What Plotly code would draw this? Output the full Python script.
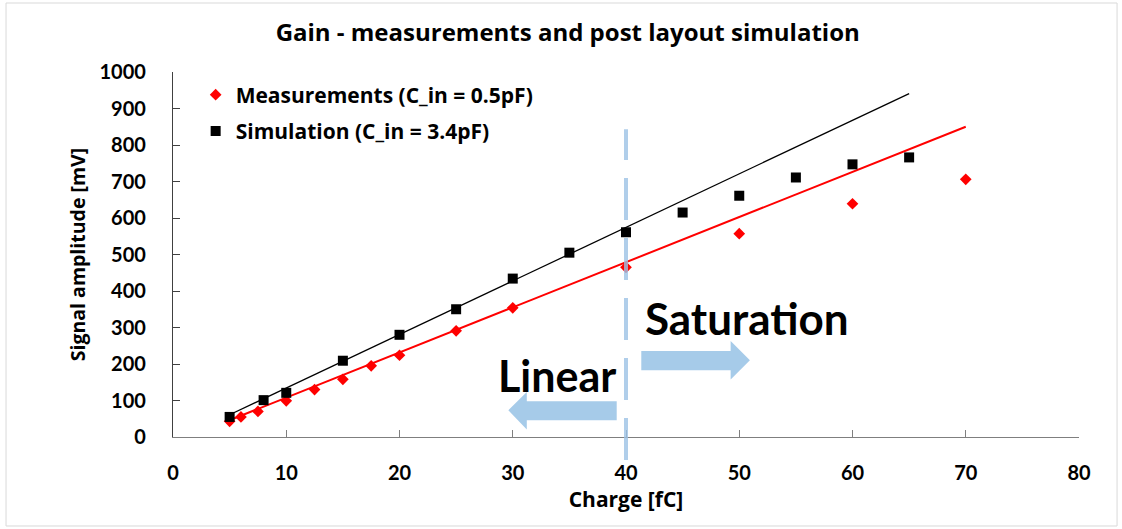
import plotly.graph_objects as go

# ---- data ----
meas_x = [5, 6, 7.5, 10, 12.5, 15, 17.5, 20, 25, 30, 40, 50, 60, 70]
meas_y = [43, 55, 70, 99, 130, 158, 195, 224, 291, 354, 465, 557, 639, 706]
sim_x = [5, 8, 10, 15, 20, 25, 30, 35, 40, 45, 50, 55, 60, 65]
sim_y = [55, 101, 121, 209, 280, 350, 434, 505, 561, 615, 661, 711, 747, 766]
meas_fit_x = [5, 70]
meas_fit_y = [46, 850]
sim_fit_x = [5, 65]
sim_fit_y = [61, 941]
boundary_x = 40
boundary_y = [-63, 843]
x_ticks = [0, 10, 20, 30, 40, 50, 60, 70, 80]
y_ticks = [0, 100, 200, 300, 400, 500, 600, 700, 800, 900, 1000]

XR = [0, 80]
YR = [0, 1000]
FONT = "Lato"
TFONT = "Open Sans"
BLUE = "#A6CBE9"

fig = go.Figure()
fig.add_trace(go.Scatter(x=meas_fit_x, y=meas_fit_y, mode="lines",
                         line=dict(color="#FF0000", width=2), showlegend=False, hoverinfo="skip"))
fig.add_trace(go.Scatter(x=sim_fit_x, y=sim_fit_y, mode="lines",
                         line=dict(color="#000000", width=1.3), showlegend=False, hoverinfo="skip"))
fig.add_trace(go.Scatter(x=meas_x, y=meas_y, mode="markers", name="<b>Measurements (C_in = 0.5pF)</b>",
                         legendgroup="a",
                         marker=dict(symbol="diamond", size=9, color="#FF0000", line=dict(width=0))))
fig.add_trace(go.Scatter(x=sim_x, y=sim_y, mode="markers", name="<b>Simulation (C_in = 3.4pF)</b>",
                         legendgroup="b",
                         marker=dict(symbol="square", size=10, color="#000000", line=dict(width=0))))

def px(v):
    return (v - XR[0]) / (XR[1] - XR[0])

def py(v):
    return (v - YR[0]) / (YR[1] - YR[0])

shapes = []
# outer chart border
shapes.append(dict(type="rect", xref="paper", yref="paper", x0=-0.1843, x1=1.042, y0=-0.2438, y1=1.189,
                   line=dict(color="#D9D9D9", width=1), fillcolor="rgba(0,0,0,0)", layer="below"))
# linear / saturation boundary
shapes.append(dict(type="line", xref="paper", yref="paper",
                   x0=px(boundary_x), x1=px(boundary_x), y0=py(boundary_y[0]), y1=py(boundary_y[1]),
                   line=dict(color="#9DC3E6", width=4, dash="42px,18px"), opacity=0.8, layer="above"))
# left arrow (Linear)
shapes.append(dict(type="path", xref="x", yref="y",
                   path="M 29.61 73 L 31.24 123.3 L 31.24 97.8 L 39.18 97.8 L 39.18 45.8 L 31.24 45.8 L 31.24 20.3 Z",
                   fillcolor=BLUE, line=dict(width=0), layer="above"))
# right arrow (Saturation)
shapes.append(dict(type="path", xref="x", yref="y",
                   path="M 41.35 235.6 L 49.24 235.6 L 49.24 263 L 50.94 210 L 49.24 157.3 L 49.24 182.7 L 41.35 182.7 Z",
                   fillcolor=BLUE, line=dict(width=0), layer="above"))

annotations = [
    dict(x=33.9, y=169, xref="x", yref="y", text="<b>Linear</b>", showarrow=False,
         font=dict(family=FONT, size=43, color="#000000"), xanchor="center", yanchor="middle"),
    dict(x=50.7, y=325, xref="x", yref="y", text="<b>Saturation</b>", showarrow=False,
         font=dict(family=FONT, size=44, color="#000000"), xanchor="center", yanchor="middle"),
]

fig.update_layout(
    width=1122, height=529,
    margin=dict(l=173, r=43, t=72, b=92),
    paper_bgcolor="white", plot_bgcolor="white",
    title=dict(text="<b>Gain - measurements and post layout simulation</b>", x=0.506, y=1 - 33 / 529,
               xanchor="center", yanchor="middle",
               font=dict(family=TFONT, size=24, color="#000000")),
    font=dict(family=FONT, color="#000000"),
    showlegend=True,
    legend=dict(x=0.025, y=0.993, xanchor="left", yanchor="top", bgcolor="rgba(0,0,0,0)",
                traceorder="grouped", tracegroupgap=6,
                font=dict(family=TFONT, size=21, color="#000000")),
    xaxis=dict(range=XR, tickvals=x_ticks, ticktext=["<b>%d</b>" % v for v in x_ticks],
               showgrid=False, zeroline=False,
               showline=True, linecolor="#7F7F7F", linewidth=1.3,
               ticks="inside", ticklen=7, tickcolor="#7F7F7F", ticklabelstandoff=18,
               tickfont=dict(family=FONT, size=20, color="#000000"),
               title=dict(text="<b>Charge [fC]</b>", standoff=9,
                          font=dict(family=TFONT, size=21, color="#000000"))),
    yaxis=dict(range=YR, tickvals=y_ticks, ticktext=["<b>%d</b>" % v for v in y_ticks],
               showgrid=False, zeroline=False,
               showline=True, linecolor="#404040", linewidth=1.3,
               ticks="inside", ticklen=7, tickcolor="#404040", ticklabelstandoff=22,
               tickfont=dict(family=FONT, size=20, color="#000000"),
               title=dict(text="<b>Signal amplitude [mV]</b>", standoff=8,
                          font=dict(family=TFONT, size=19.5, color="#000000"))),
    shapes=shapes,
    annotations=annotations,
)

fig.write_html("out.html")
